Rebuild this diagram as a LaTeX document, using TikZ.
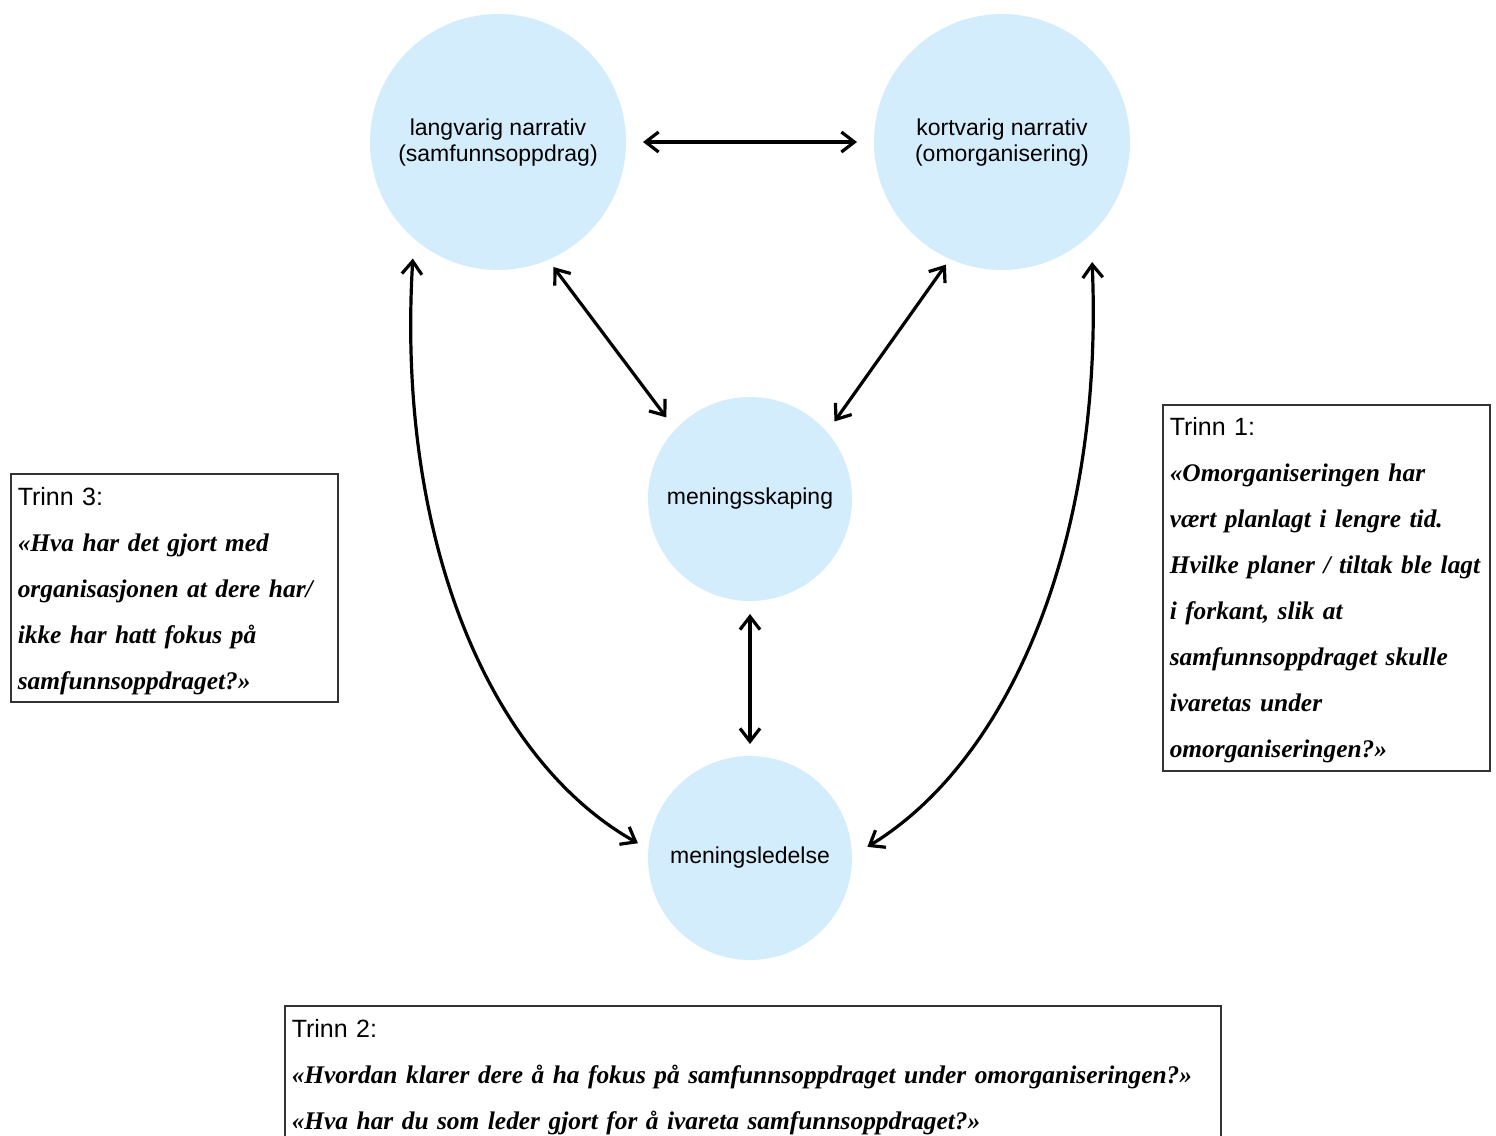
\documentclass[tikz,border=0pt]{standalone}
\usepackage{fontspec}
\setmainfont{Liberation Serif}
\setsansfont{Liberation Sans}
\usetikzlibrary{arrows.meta}
\definecolor{bubblefill}{RGB}{212,237,252}

\begin{document}
\begin{tikzpicture}[x=0.5pt,y=-0.5pt,
  bubble/.style={circle, fill=bubblefill, draw=none, inner sep=0pt, outer sep=0pt,
    align=center, font=\sffamily\fontsize{11.5pt}{13pt}\selectfont},
  big/.style={bubble, minimum size=128pt},
  small/.style={bubble, minimum size=102pt},
  link/.style={line width=1.6pt,
    {Straight Barb[length=6.5pt,width=10pt]}-{Straight Barb[length=6.5pt,width=10pt]}},
  question/.style={draw=black!80, line width=0.75pt, anchor=north west,
    inner xsep=3.5pt, inner ysep=0pt, text height=16pt, align=left,
    font=\fontsize{12.7pt}{23pt}\selectfont\bfseries\itshape},
  stagefont/.style={}
]
\clip (0,0) rectangle (1496,1136);
\fill[white] (0,0) rectangle (1496,1136);

% narratives and sensemaking
\node[big] (lang) at (498,142) {\strut langvarig narrativ\\(samfunnsoppdrag)};
\node[big] (kort) at (1002,142) {\strut kortvarig narrativ\\(omorganisering)};
\node[small] (skap) at (750,499) {meningsskaping};
\node[small] (led) at (750,858) {meningsledelse};

% two-way links
\draw[link, shorten <=8.5pt, shorten >=8.5pt] (lang.east) -- (kort.west);
\draw[link, shorten <=4.5pt, shorten >=7.5pt] (lang.-67) -- (skap.137);
\draw[link, shorten <=3.5pt, shorten >=6.5pt] (kort.-114.5) -- (skap.41.4);
\draw[link, shorten <=6.5pt, shorten >=6pt] (skap.south) -- (led.north);
\draw[link, shorten <=10pt, shorten >=6pt]
  (lang.-131.6) .. controls (396,540) and (490,760) .. (led.175);
\draw[link, shorten <=14pt, shorten >=9pt]
  (kort.-46) .. controls (1104,540) and (1010,760) .. (led.1);

% interview questions
\node[question, text width=156.5pt, text depth=98pt] (q3) at (10,473) {%
  {\usefont{TU}{\sfdefault}{m}{n}\fontsize{12.5pt}{23pt}\selectfont Trinn 3:}\\
  \mbox{«Hva har det gjort med}\\
  \mbox{organisasjonen at dere har/}\\
  \mbox{ikke har hatt fokus på}\\
  \mbox{samfunnsoppdraget?»}};

\node[question, text width=156.5pt, text depth=167.5pt, text height=15.5pt] (q1) at (1162,404) {%
  {\usefont{TU}{\sfdefault}{m}{n}\fontsize{12.5pt}{23pt}\selectfont Trinn 1:}\\
  \mbox{«Omorganiseringen har}\\
  \mbox{vært planlagt i lengre tid.}\\
  \mbox{Hvilke planer / tiltak ble lagt}\\
  \mbox{i forkant, slik at}\\
  \mbox{samfunnsoppdraget skulle}\\
  \mbox{ivaretas under}\\
  \mbox{omorganiseringen?»}};

\node[question, text width=461pt, text depth=80pt] (q2) at (284,1005) {%
  {\usefont{TU}{\sfdefault}{m}{n}\fontsize{12.5pt}{23pt}\selectfont Trinn 2:}\\
  \mbox{«Hvordan klarer dere å ha fokus på samfunnsoppdraget under omorganiseringen?»}\\
  \mbox{«Hva har du som leder gjort for å ivareta samfunnsoppdraget?»}};
\end{tikzpicture}
\end{document}
